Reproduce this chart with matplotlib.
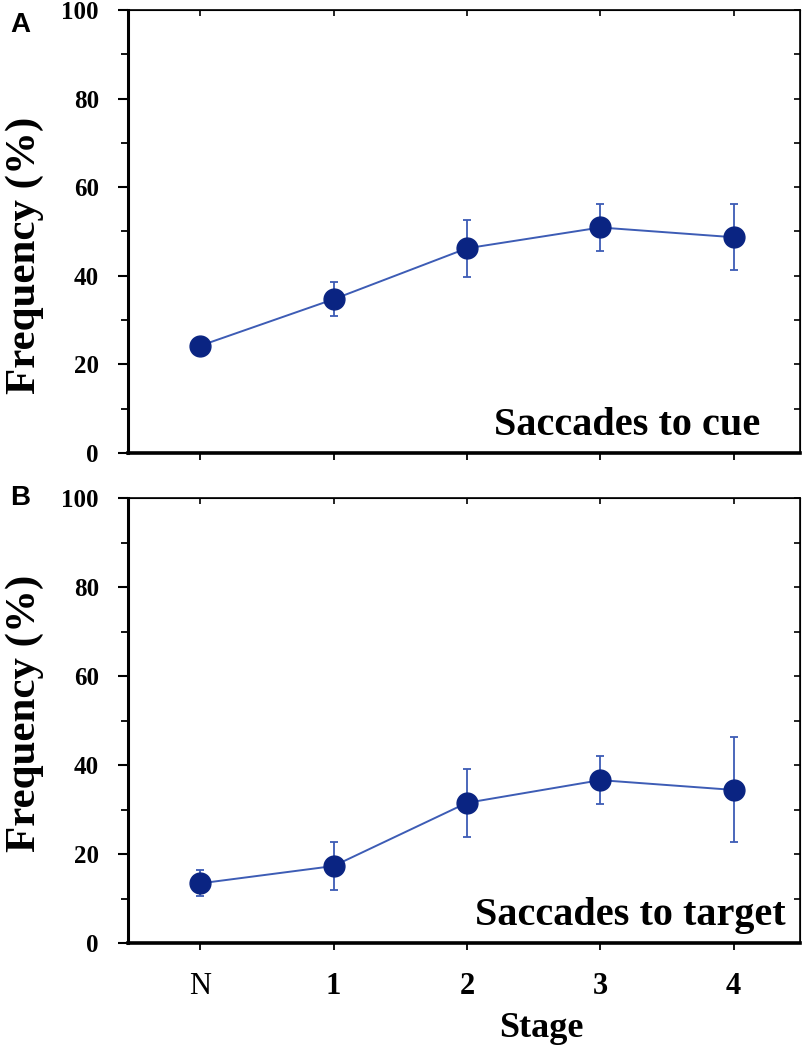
import matplotlib.pyplot as plt
from matplotlib.ticker import MultipleLocator

# ---- data ----
stages = ['N', '1', '2', '3', '4']
cue_mean = [24.2, 34.7, 46.2, 50.9, 48.7]
cue_err = [1.0, 3.8, 6.5, 5.3, 7.4]
target_mean = [13.4, 17.3, 31.5, 36.6, 34.4]
target_err = [2.9, 5.5, 7.6, 5.4, 11.8]

line_color = '#3d5cb5'
marker_color = '#0a2482'
serif = 'Liberation Serif'

fig = plt.figure(figsize=(8.06, 10.5), dpi=100)
ax_a = fig.add_axes([0.159, 0.5686, 0.834, 0.4219])
ax_b = fig.add_axes([0.159, 0.1019, 0.834, 0.4238])

# axes, values, errors, inner label, panel letter, letter y, ylabel y
panels = [
    (ax_a, cue_mean, cue_err, 'Saccades to cue', 'A', 0.966, 0.447, 0.94),
    (ax_b, target_mean, target_err, 'Saccades to target', 'B', 1.0, 0.515, 0.978),
]

x = list(range(len(stages)))

for ax, mean, err, label, letter, let_y, lab_y, txt_x in panels:
    ax.errorbar(x, mean, yerr=err, color=line_color, lw=1.4, elinewidth=1.3,
                capsize=3, capthick=1.3, marker='o', markersize=15,
                markerfacecolor=marker_color, markeredgecolor=marker_color, zorder=3)

    ax.set_xlim(-0.54, 4.5)
    ax.set_ylim(0, 100)
    ax.yaxis.set_major_locator(MultipleLocator(20))
    ax.yaxis.set_minor_locator(MultipleLocator(10))
    ax.set_xticks(x)

    for s in ax.spines.values():
        s.set_linewidth(1.2)
    ax.spines['left'].set_linewidth(2.2)
    ax.spines['bottom'].set_linewidth(2.6)

    ax.tick_params(axis='y', which='major', direction='out', length=7, width=1.5, pad=14)
    ax.tick_params(axis='y', which='minor', direction='out', length=5, width=1.3)
    ax.tick_params(axis='x', direction='out', length=5, width=1.3, pad=16)
    for t in ax.get_yticklabels():
        t.set_fontfamily(serif)
        t.set_fontweight('bold')
        t.set_fontsize(18)

    # inward ticks on top / right
    top = ax.secondary_xaxis('top')
    top.set_xticks(x)
    top.tick_params(direction='in', length=4, width=1.2, labeltop=False)
    right = ax.secondary_yaxis('right')
    right.yaxis.set_major_locator(MultipleLocator(20))
    right.yaxis.set_minor_locator(MultipleLocator(10))
    right.tick_params(which='both', direction='in', length=4, width=1.2, labelright=False)

    ax.set_ylabel('Frequency (%)', fontfamily=serif, fontweight='bold', fontsize=31)
    ax.yaxis.set_label_coords(-0.125, lab_y)

    ax.text(txt_x, 0.04, label, transform=ax.transAxes, ha='right', va='baseline',
            fontfamily=serif, fontweight='bold', fontsize=29)
    ax.text(-0.176, let_y, letter, transform=ax.transAxes, ha='left', va='center',
            fontfamily='Liberation Sans', fontweight='bold', fontsize=20)

ax_a.tick_params(axis='x', labelbottom=False)
ax_b.set_xticklabels(stages, fontfamily=serif, fontsize=22)
for t in ax_b.get_xticklabels()[1:]:
    t.set_fontweight('bold')
ax_b.set_xlabel('Stage', fontfamily=serif, fontweight='bold', fontsize=26)
ax_b.xaxis.set_label_coords(0.615, -0.155)

plt.savefig('out.png', dpi=100)
